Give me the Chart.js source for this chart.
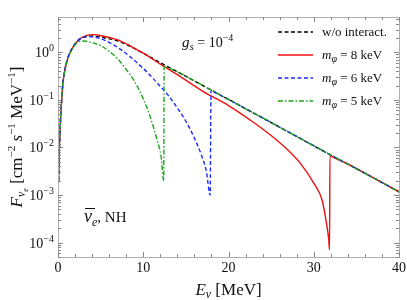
<!DOCTYPE html>
<html>
<head>
<meta charset="utf-8">
<script src="https://cdn.jsdelivr.net/npm/chart.js@4"></script>
<style>
  html, body { margin: 0; padding: 0; background: #fff; }
  canvas { display: block; }
</style>
</head>
<body>
<canvas id="fluxChart" width="407" height="300"></canvas>
<script>
// axis ranges and ticks
const xRange = [0, 40];
const yRange = [5e-5, 5.5];
const xTicks = [0, 10, 20, 30, 40];
const yTickExp = [0, -1, -2, -3, -4];

// w/o interaction (black dashed)
const noIntE = [0.07, 0.12, 0.2, 0.3, 0.4, 0.55, 0.8, 1.2, 1.8, 2.5, 3.3, 4.2, 5.5, 7, 8.5, 10, 12, 14, 17, 20, 24, 28, 32, 36, 40];
const noIntF = [0.002, 0.005, 0.0151, 0.0398, 0.0794, 0.2, 0.417, 0.794, 1.318, 1.862, 2.138, 2.188, 1.995, 1.738, 1.318, 0.955, 0.603, 0.389, 0.2, 0.102, 0.0417, 0.017, 0.00692, 0.00288, 0.00117];

// m_phi = 8 keV (red solid)
const m8E = [0.07, 0.12, 0.2, 0.3, 0.4, 0.55, 0.8, 1.2, 1.8, 2.5, 3.3, 4.2, 5.5, 7, 8.5, 10, 12, 14, 17, 20, 23, 25, 27, 28.5, 30, 31, 31.5, 31.75, 31.85, 31.9, 32.3, 34, 36, 38, 40];
const m8F = [0.002, 0.005, 0.0151, 0.0398, 0.0794, 0.2, 0.417, 0.794, 1.318, 1.862, 2.24, 2.34, 2.14, 1.82, 1.35, 0.955, 0.562, 0.339, 0.151, 0.0759, 0.0331, 0.0178, 0.0087, 0.00447, 0.00178, 0.00076, 0.00025, 0.00012, 0.00007, 0.0068, 0.0062, 0.0045, 0.00288, 0.00184, 0.00117];

// m_phi = 6 keV (blue dashed)
const m6E = [0.07, 0.12, 0.2, 0.3, 0.4, 0.55, 0.8, 1.2, 1.8, 2.5, 3.3, 4.2, 5.5, 7, 8.5, 10, 11, 12, 13, 14, 15, 16, 16.8, 17.4, 17.85, 17.95, 18.3, 20, 24, 28, 32, 36, 40];
const m6F = [0.002, 0.005, 0.0151, 0.0398, 0.0794, 0.2, 0.417, 0.794, 1.318, 1.862, 2.138, 2.09, 1.78, 1.26, 0.794, 0.457, 0.302, 0.191, 0.12, 0.0676, 0.0355, 0.0158, 0.00708, 0.00316, 0.001, 0.158, 0.146, 0.102, 0.0417, 0.017, 0.00692, 0.00288, 0.00117];

// m_phi = 5 keV (green dot-dashed)
const m5E = [0.07, 0.12, 0.2, 0.3, 0.4, 0.55, 0.8, 1.2, 1.8, 2.5, 3, 4, 5, 6, 7, 8, 9, 10, 10.8, 11.6, 12.1, 12.4, 12.45, 12.8, 14, 17, 20, 24, 28, 32, 36, 40];
const m5F = [0.002, 0.005, 0.0151, 0.0398, 0.0794, 0.2, 0.417, 0.78, 1.26, 1.7, 1.72, 1.585, 1.38, 1.047, 0.724, 0.437, 0.24, 0.105, 0.0447, 0.0148, 0.0063, 0.002, 0.513, 0.48, 0.389, 0.2, 0.102, 0.0417, 0.017, 0.00692, 0.00288, 0.00117];

function pts(xs, ys) {
    return xs.map((x, i) => ({ x: x, y: ys[i] }));
}

const serif = '"Liberation Serif", "DejaVu Serif", serif';

// draw a run of text pieces: [text, size, italic, dy]
function drawRich(ctx, parts, x, y, align) {
    let total = 0;
    parts.forEach(p => {
        ctx.font = (p[2] ? 'italic ' : '') + p[1] + 'px ' + serif;
        total += ctx.measureText(p[0]).width;
    });
    let cx = align === 'right' ? x - total : align === 'center' ? x - total / 2 : x;
    ctx.textAlign = 'left';
    ctx.textBaseline = 'alphabetic';
    const starts = [];
    parts.forEach(p => {
        ctx.font = (p[2] ? 'italic ' : '') + p[1] + 'px ' + serif;
        starts.push(cx);
        ctx.fillText(p[0], cx, y + (p[3] || 0));
        cx += ctx.measureText(p[0]).width;
    });
    return starts;
}

// frame, ticks, labels, legend, annotations
const decorations = {
    id: 'decorations',
    afterDraw(chart) {
        const ctx = chart.ctx;
        const a = chart.chartArea;
        const xs = chart.scales.x, ys = chart.scales.y;
        ctx.save();
        ctx.strokeStyle = '#b0b0b0';
        ctx.lineWidth = 1;
        ctx.strokeRect(a.left + 0.5, a.top + 0.5, a.right - a.left, a.bottom - a.top);

        // x ticks (top and bottom)
        ctx.strokeStyle = '#888';
        for (let v = xRange[0]; v <= xRange[1]; v += 2) {
            const px = Math.round(xs.getPixelForValue(v)) + 0.5;
            const len = v % 10 === 0 ? 5 : 3;
            ctx.beginPath();
            ctx.moveTo(px, a.bottom); ctx.lineTo(px, a.bottom - len);
            ctx.moveTo(px, a.top); ctx.lineTo(px, a.top + len);
            ctx.stroke();
        }
        // y ticks (left and right)
        for (let e = -5; e <= 0; e++) {
            for (let m = 1; m <= 9; m++) {
                const v = m * Math.pow(10, e);
                if (v < yRange[0] || v > yRange[1]) continue;
                const py = Math.round(ys.getPixelForValue(v)) + 0.5;
                const len = m === 1 ? 5 : 3;
                ctx.beginPath();
                ctx.moveTo(a.left, py); ctx.lineTo(a.left + len, py);
                ctx.moveTo(a.right, py); ctx.lineTo(a.right - len, py);
                ctx.stroke();
            }
        }

        ctx.fillStyle = '#111';
        // x tick labels
        xTicks.forEach(v => {
            drawRich(ctx, [[String(v), 14, false]], xs.getPixelForValue(v), a.bottom + 15, 'center');
        });
        // y tick labels
        yTickExp.forEach(e => {
            const py = ys.getPixelForValue(Math.pow(10, e));
            const ex = e === 0 ? '0' : '\u2212' + (-e);
            drawRich(ctx, [['10', 14, false, 0], [ex, 10, false, -6]], a.left - 4, py + 5, 'right');
        });

        // x axis title
        drawRich(ctx, [['E', 17, true, 0], ['\u03bd', 12, true, 3], [' [MeV]', 17, false, 0]],
            (a.left + a.right) / 2, 295, 'center');

        // y axis title (rotated)
        ctx.save();
        ctx.translate(22, (a.top + a.bottom) / 2);
        ctx.rotate(-Math.PI / 2);
        drawRich(ctx, [
            ['F', 17, true, 0], ['\u03bd', 12, true, 3], ['e', 8, true, 6],
            [' [cm', 17, false, 0], ['\u22122', 11, false, -7],
            [' ', 17, false, 0], ['s', 17, true, 0], ['\u22121', 11, false, -7],
            [' MeV', 17, false, 0], ['\u22121', 11, false, -7], [']', 17, false, 0]
        ], 0, 0, 'center');
        ctx.restore();

        // coupling annotation
        drawRich(ctx, [['g', 15, true, 0], ['s', 11, true, 3], [' = 10', 14, false, 0], ['\u22124', 10, false, -6]],
            182, 47, 'left');

        // channel annotation
        const st = drawRich(ctx, [['\u03bd', 18, true, 0], ['e', 12, true, 4], [', NH', 15, false, 0]], 84, 222, 'left');
        ctx.strokeStyle = '#111';
        ctx.lineWidth = 1;
        ctx.beginPath();
        ctx.moveTo(st[0] + 1, 208.5); ctx.lineTo(st[0] + 11, 208.5);
        ctx.stroke();

        // legend
        const legendRows = [
            { color: '#000', dash: [4, 2.5], width: 1.4, label: [['w/o interact.', 13, false, 0]] },
            { color: '#ee1111', dash: [], width: 1.4, label: [['m', 13, true, 0], ['\u03c6', 10, true, 3], [' = 8 keV', 13, false, 0]] },
            { color: '#1a2bff', dash: [4, 2.5], width: 1.4, label: [['m', 13, true, 0], ['\u03c6', 10, true, 3], [' = 6 keV', 13, false, 0]] },
            { color: '#1fa51f', dash: [5, 2, 1.5, 2], width: 1.4, label: [['m', 13, true, 0], ['\u03c6', 10, true, 3], [' = 5 keV', 13, false, 0]] }
        ];
        legendRows.forEach((r, i) => {
            const y = 32 + i * 23;
            ctx.strokeStyle = r.color;
            ctx.lineWidth = r.width;
            ctx.setLineDash(r.dash);
            ctx.beginPath();
            ctx.moveTo(278, y); ctx.lineTo(313, y);
            ctx.stroke();
            ctx.setLineDash([]);
            ctx.fillStyle = '#111';
            drawRich(ctx, r.label, 322, y + 4, 'left');
        });
        ctx.restore();
    }
};

new Chart(document.getElementById('fluxChart'), {
    type: 'line',
    data: {
        datasets: [
            { label: 'm5', data: pts(m5E, m5F), borderColor: '#1fa51f', borderWidth: 1.4, borderDash: [5, 2, 1.5, 2] },
            { label: 'm6', data: pts(m6E, m6F), borderColor: '#1a2bff', borderWidth: 1.4, borderDash: [4, 2.5] },
            { label: 'm8', data: pts(m8E, m8F), borderColor: '#ee1111', borderWidth: 1.4 },
            { label: 'noint', data: pts(noIntE, noIntF), borderColor: '#000', borderWidth: 1.4, borderDash: [4, 2.5] }
        ]
    },
    options: {
        responsive: false,
        animation: false,
        devicePixelRatio: 1,
        layout: { padding: { left: 58, right: 8, top: 17, bottom: 43 } },
        elements: {
            point: { radius: 0 },
            line: { cubicInterpolationMode: 'monotone', fill: false }
        },
        plugins: { legend: { display: false }, tooltip: { enabled: false } },
        scales: {
            x: { type: 'linear', min: xRange[0], max: xRange[1], display: false },
            y: { type: 'logarithmic', min: yRange[0], max: yRange[1], display: false }
        }
    },
    plugins: [decorations]
});
</script>
</body>
</html>
